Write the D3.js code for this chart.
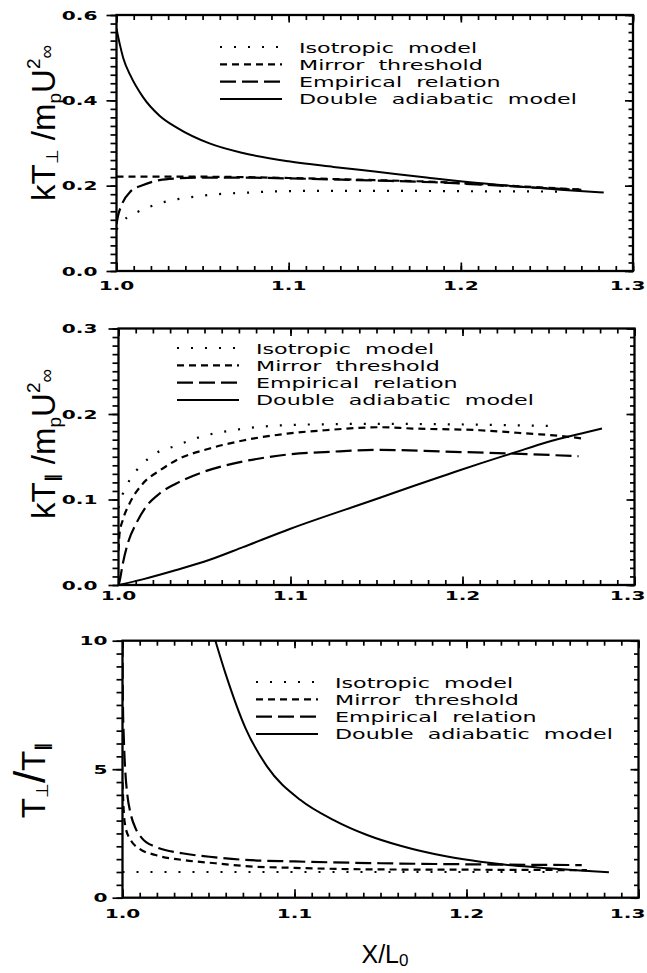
<!DOCTYPE html>
<html>
<head>
<meta charset="utf-8">
<script src="https://cdn.jsdelivr.net/npm/d3@7"></script>
<style>
  body { margin: 0; background: #fff; }
  svg { display: block; background: #fff; }
  .tick line { stroke: #000; stroke-width: 1.7; }
  .ticklab { font-family: "DejaVu Sans", sans-serif; font-weight: bold; font-size: 13px; }
  .legtext { font-family: "DejaVu Sans", sans-serif; font-size: 14.8px; }
  .title { font-family: "Liberation Sans", Arial, sans-serif; }
</style>
</head>
<body>
<svg id="chart" width="647" height="973"></svg>
<script>
// ---- data ----
const xTicks = [1.0, 1.1, 1.2, 1.3];
const perpTicks = [0.0, 0.2, 0.4, 0.6];
const parTicks = [0.0, 0.1, 0.2, 0.3];
const ratioTicks = [0, 5, 10];
const legendNames = ["Isotropic  model", "Mirror  threshold", "Empirical  relation", "Double  adiabatic  model"];

// kT_perp / m_p U^2
const perpIso = [[1.0,0.097],[1.002,0.108],[1.006,0.125],[1.0125,0.139],[1.0195,0.151],[1.027,0.161],
  [1.043,0.173],[1.059,0.180],[1.0775,0.184],[1.095,0.187],[1.124,0.188],[1.16,0.188],[1.2,0.187],
  [1.24,0.1865],[1.262,0.186]];
const perpMirror = [[1.0,0.221],[1.05,0.221],[1.1,0.218],[1.15,0.213],[1.184,0.209],[1.223,0.201],
  [1.255,0.194],[1.27,0.191]];
const perpEmp = [[1.0,0.11],[1.001,0.131],[1.003,0.155],[1.008,0.186],[1.0155,0.2015],[1.025,0.213],
  [1.035,0.217],[1.05,0.219],[1.07,0.219],[1.1,0.217],[1.15,0.212],[1.184,0.208],[1.223,0.200],
  [1.255,0.193],[1.27,0.190]];
const perpDouble = [[1.0,0.568],[1.002,0.53],[1.004,0.498],[1.008,0.459],[1.0155,0.407],[1.025,0.364],
  [1.035,0.336],[1.054,0.299],[1.074,0.276],[1.1,0.257],[1.126,0.244],[1.15,0.233],[1.18,0.219],
  [1.21,0.206],[1.24,0.196],[1.26,0.19],[1.283,0.184]];

// kT_par / m_p U^2
const parIso = [[1.0,0.09],[1.0006,0.0953],[1.0035,0.111],[1.0064,0.1226],[1.0142,0.142],[1.02,0.152],
  [1.0336,0.163],[1.049,0.174],[1.0666,0.181],[1.082,0.185],[1.098,0.187],[1.12,0.188],[1.15,0.1885],
  [1.19,0.188],[1.225,0.187],[1.253,0.186]];
const parMirror = [[1.0,0.04],[1.0006,0.06],[1.0025,0.076],[1.0064,0.0953],[1.0142,0.1187],[1.024,0.134],
  [1.0336,0.146],[1.053,0.1596],[1.0724,0.169],[1.098,0.177],[1.12,0.181],[1.152,0.1845],[1.171,0.183],
  [1.21,0.181],[1.239,0.177],[1.259,0.174],[1.271,0.171]];
const parEmp = [[1.0,0.0],[1.0006,0.004],[1.0025,0.025],[1.0054,0.0487],[1.0103,0.072],[1.016,0.0914],
  [1.0239,0.107],[1.0336,0.1187],[1.049,0.132],[1.0666,0.142],[1.082,0.148],[1.098,0.1525],[1.125,0.156],
  [1.152,0.158],[1.19,0.156],[1.23,0.1537],[1.2675,0.1506]];
const parDouble = [[1.0,0.0],[1.014,0.0066],[1.0336,0.0175],[1.053,0.0295],[1.0724,0.0443],[1.0996,0.0655],
  [1.152,0.102],[1.1715,0.1158],[1.1908,0.129],[1.21,0.142],[1.2296,0.1545],[1.249,0.167],[1.2685,0.177],
  [1.2811,0.183]];

// T_perp / T_par
const ratioIso = [[1.0,1.0],[1.05,1.0],[1.1,1.0],[1.15,1.0],[1.2,1.0],[1.253,1.0]];
const ratioMirror = [[1.0,4.5],[1.0008,3.28],[1.0017,2.76],[1.0047,2.25],[1.0095,1.92],[1.0192,1.66],
  [1.0347,1.47],[1.054,1.34],[1.0715,1.23],[1.1,1.16],[1.15,1.10],[1.2,1.09],[1.24,1.08],[1.27,1.07]];
const ratioEmp = [[1.0,10.0],[1.0002,7.7],[1.0008,6.14],[1.0017,4.84],[1.0027,4.06],[1.0047,3.28],
  [1.0076,2.70],[1.0114,2.31],[1.0192,1.98],[1.0347,1.73],[1.054,1.57],[1.0715,1.47],[1.1,1.41],
  [1.15,1.34],[1.2,1.30],[1.24,1.28],[1.267,1.27]];
const ratioDouble = [[1.054,10.0],[1.06,8.7],[1.0715,6.6],[1.0841,5.1],[1.1035,3.8],[1.1228,3.02],
  [1.1422,2.44],[1.1616,2.02],[1.1888,1.60],[1.2081,1.40],[1.2275,1.25],[1.247,1.15],[1.266,1.06],
  [1.2828,0.99]];

// ---- layout / styles ----
const styles = [
  {dash: "2,12", width: 2.2},
  {dash: "7,5", width: 2.2},
  {dash: "16,6", width: 2.2},
  {dash: null, width: 2}
];

const panels = [
  {left: 116.5, right: 633, top: 15, bottom: 271, yMax: 0.6, yTicks: perpTicks, yMinor: 0.02,
   fmt: d3.format(".1f"), series: [perpIso, perpMirror, perpEmp, perpDouble],
   legX: 220, legY: 47, xLab: 19, yLab: 19, title: "perp", titleX: 55, titleY: 123},
  {left: 118.5, right: 634.5, top: 328.5, bottom: 585, yMax: 0.3, yTicks: parTicks, yMinor: 0.01,
   fmt: d3.format(".1f"), series: [parIso, parMirror, parEmp, parDouble],
   legX: 177, legY: 348, xLab: 15, yLab: 21, title: "par", titleX: 55, titleY: 444},
  {left: 122.5, right: 638.5, top: 640.7, bottom: 897.7, yMax: 10, yTicks: ratioTicks, yMinor: 0.5,
   fmt: d3.format("d"), series: [ratioIso, ratioMirror, ratioEmp, ratioDouble],
   legX: 256, legY: 682, xLab: 20, yLab: 15, title: "ratio", titleX: 45, titleY: 780}
];

const svg = d3.select("#chart");
const W = 647;
const tickSx = 1.55;
const legendWidth = 278;
const minorX = d3.range(0, 31).map(i => 1 + i / 100);

// horizontally stretched text helper
function stretched(g, x, y, txt, cls, anchor, sx) {
  const t = g.append("text")
    .attr("class", cls)
    .attr("text-anchor", anchor)
    .text(txt);
  // keep the label inside the page
  const w = t.node().getComputedTextLength() * sx;
  const right = anchor === "middle" ? x + w / 2 : anchor === "end" ? x : x + w;
  if (right > W - 1.5) x -= right - (W - 1.5);
  t.attr("transform", `translate(${x},${y}) scale(${sx},1)`);
  return t;
}

panels.forEach((p, pi) => {
  const x = d3.scaleLinear().domain([1.0, 1.3]).range([p.left, p.right]);
  const y = d3.scaleLinear().domain([0, p.yMax]).range([p.bottom, p.top]);
  const g = svg.append("g");
  const nMinor = Math.round(p.yMax / p.yMinor);
  const minorY = d3.range(0, nMinor + 1).map(i => i * p.yMinor);

  const clipId = "clip" + pi;
  g.append("clipPath").attr("id", clipId)
    .append("rect").attr("x", p.left).attr("y", p.top)
    .attr("width", p.right - p.left).attr("height", p.bottom - p.top);

  // ticks: minor + major on each side
  const axes = [
    [d3.axisBottom(x), `translate(0,${p.bottom})`, minorX, xTicks, -5, -8.5],
    [d3.axisTop(x), `translate(0,${p.top})`, minorX, xTicks, -5, -7.5],
    [d3.axisLeft(y), `translate(${p.left},0)`, minorY, p.yTicks, 6, 10],
    [d3.axisRight(y), `translate(${p.right},0)`, minorY, p.yTicks, -4.5, -8]
  ];
  axes.forEach(([ax, tr, minor, major, sMinor, sMajor]) => {
    g.append("g").attr("transform", tr)
      .call(ax.tickValues(minor).tickSize(sMinor).tickSizeOuter(0).tickFormat(""))
      .call(a => a.select(".domain").remove());
    g.append("g").attr("transform", tr)
      .call(ax.tickValues(major).tickSize(sMajor).tickSizeOuter(0).tickFormat(""))
      .call(a => a.select(".domain").remove());
  });

  // frame
  g.append("rect")
    .attr("x", p.left).attr("y", p.top)
    .attr("width", p.right - p.left).attr("height", p.bottom - p.top)
    .attr("fill", "none").attr("stroke", "#000").attr("stroke-width", 2.3);

  // tick labels
  xTicks.forEach(v => stretched(g, x(v), p.bottom + p.xLab, d3.format(".1f")(v), "ticklab", "middle", tickSx));
  p.yTicks.forEach(v => stretched(g, p.left - p.yLab, y(v) + 4.7, p.fmt(v), "ticklab", "end", tickSx));

  // curves
  const line = d3.line().x(d => x(d[0])).y(d => y(d[1])).curve(d3.curveMonotoneX);
  const cg = g.append("g").attr("clip-path", `url(#${clipId})`);
  p.series.forEach((s, i) => {
    cg.append("path")
      .attr("d", line(s))
      .attr("fill", "none")
      .attr("stroke", "#000")
      .attr("stroke-width", styles[i].width)
      .attr("stroke-dasharray", styles[i].dash);
  });

  // legend
  const legStep = 17.3;
  legendNames.forEach((name, i) => {
    const ly = p.legY + i * legStep;
    g.append("line")
      .attr("x1", p.legX).attr("x2", p.legX + 62)
      .attr("y1", ly).attr("y2", ly)
      .attr("stroke", "#000")
      .attr("stroke-width", styles[i].width)
      .attr("stroke-dasharray", styles[i].dash);
    g.append("text").attr("class", "legtext").attr("xml:space", "preserve")
      .attr("data-y", ly).text(name);
  });
  // stretch legend texts to the reference width
  const texts = g.selectAll("text.legtext");
  const base = texts.nodes()[3].getComputedTextLength();
  const sx = legendWidth / base;
  texts.each(function() {
    const ly = +this.getAttribute("data-y");
    d3.select(this).attr("transform", `translate(${p.legX + 79},${ly + 5.5}) scale(${sx},1)`);
  });

  // axis title
  const tt = g.append("text").attr("class", "title")
    .attr("transform", `translate(${p.titleX},${p.titleY}) rotate(-90)`)
    .attr("text-anchor", "middle").attr("font-size", 33);
  if (p.title === "ratio") {
    tt.append("tspan").text("T");
    tt.append("tspan").attr("font-size", 17).attr("dy", 3).text("⊥");
    tt.append("tspan").attr("font-size", 44).attr("dy", -3).text("/");
    tt.append("tspan").attr("font-size", 33).text("T");
    tt.append("tspan").attr("font-size", 17).attr("dy", 3).attr("font-weight", "bold").text("∥");
  } else {
    tt.append("tspan").text("kT");
    tt.append("tspan").attr("font-size", 17).attr("dy", 3)
      .attr("font-weight", p.title === "par" ? "bold" : null)
      .text(p.title === "par" ? "∥" : "⊥");
    tt.append("tspan").attr("font-size", 33).attr("dy", -3).text(" /m");
    tt.append("tspan").attr("font-size", 19).attr("dy", 6).text("p");
    tt.append("tspan").attr("font-size", 33).attr("dy", -6).text("U");
    tt.append("tspan").attr("font-size", 19).attr("dy", -15).text("2");
    tt.append("tspan").attr("font-size", 19).attr("dy", 13).text("∞");
  }
});

// x axis title
const xt = svg.append("text").attr("class", "title")
  .attr("x", 385).attr("y", 963).attr("text-anchor", "middle").attr("font-size", 25);
xt.append("tspan").text("X/L");
xt.append("tspan").attr("font-size", 17).attr("dy", 3).text("0");
</script>
</body>
</html>
